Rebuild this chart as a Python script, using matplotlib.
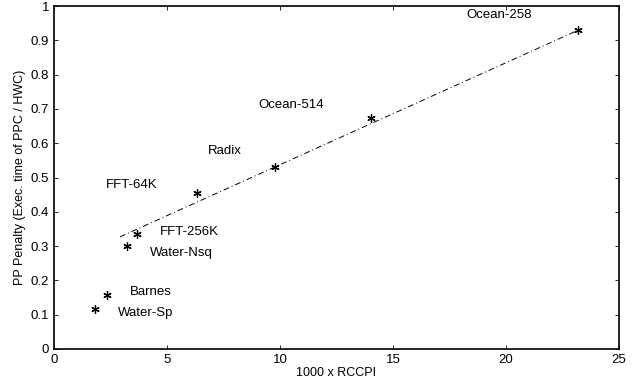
import matplotlib
matplotlib.use('Agg')
import matplotlib.pyplot as plt

names = ['Water-Sp', 'Barnes', 'Water-Nsq', 'FFT-256K', 'FFT-64K', 'Radix', 'Ocean-514', 'Ocean-258']
rccpi = [1.81, 2.35, 3.23, 3.67, 6.33, 9.78, 14.03, 23.2]
penalty = [0.117, 0.157, 0.30, 0.335, 0.455, 0.53, 0.673, 0.93]
# where each name is written (left edge, vertical centre)
label_x = [2.83, 3.36, 4.25, 4.69, 2.30, 6.81, 9.03, 18.23]
label_y = [0.105, 0.166, 0.28, 0.341, 0.478, 0.577, 0.711, 0.975]
# fitted trend line
fit_x = [2.92, 23.2]
fit_y = [0.327, 0.93]

plt.rcParams['font.family'] = ['Liberation Sans', 'DejaVu Sans']

fig = plt.figure(figsize=(6.41, 3.81), dpi=100)
ax = fig.add_axes([0.0842, 0.084, 0.8815, 0.9])

ax.plot(fit_x, fit_y, color='k', linestyle=(0, (6, 3, 1, 3)), linewidth=0.7)
ax.plot(rccpi, penalty, linestyle='none', marker=(6, 2, 0), color='k',
        markersize=6, markeredgewidth=0.9)
for n, x, y in zip(names, label_x, label_y):
    ax.text(x, y, n, fontsize=9.5, ha='left', va='center')

ax.set_xlim(0, 25)
ax.set_ylim(0, 1)
ax.set_xticks([0, 5, 10, 15, 20, 25])
ax.set_xticklabels(['0', '5', '10', '15', '20', '25'])
ax.set_yticks([i / 10 for i in range(11)])
ax.set_yticklabels(['0', '0.1', '0.2', '0.3', '0.4', '0.5', '0.6', '0.7', '0.8', '0.9', '1'])
ax.tick_params(direction='in', top=True, right=True, length=3, width=0.6, labelsize=9.5)
for s in ax.spines.values():
    s.set_linewidth(1.2)

ax.set_xlabel('1000 x RCCPI', fontsize=9, labelpad=1)
ax.set_ylabel('PP Penalty (Exec. time of PPC / HWC)', fontsize=9, labelpad=3)

plt.savefig('out.png', dpi=100)
